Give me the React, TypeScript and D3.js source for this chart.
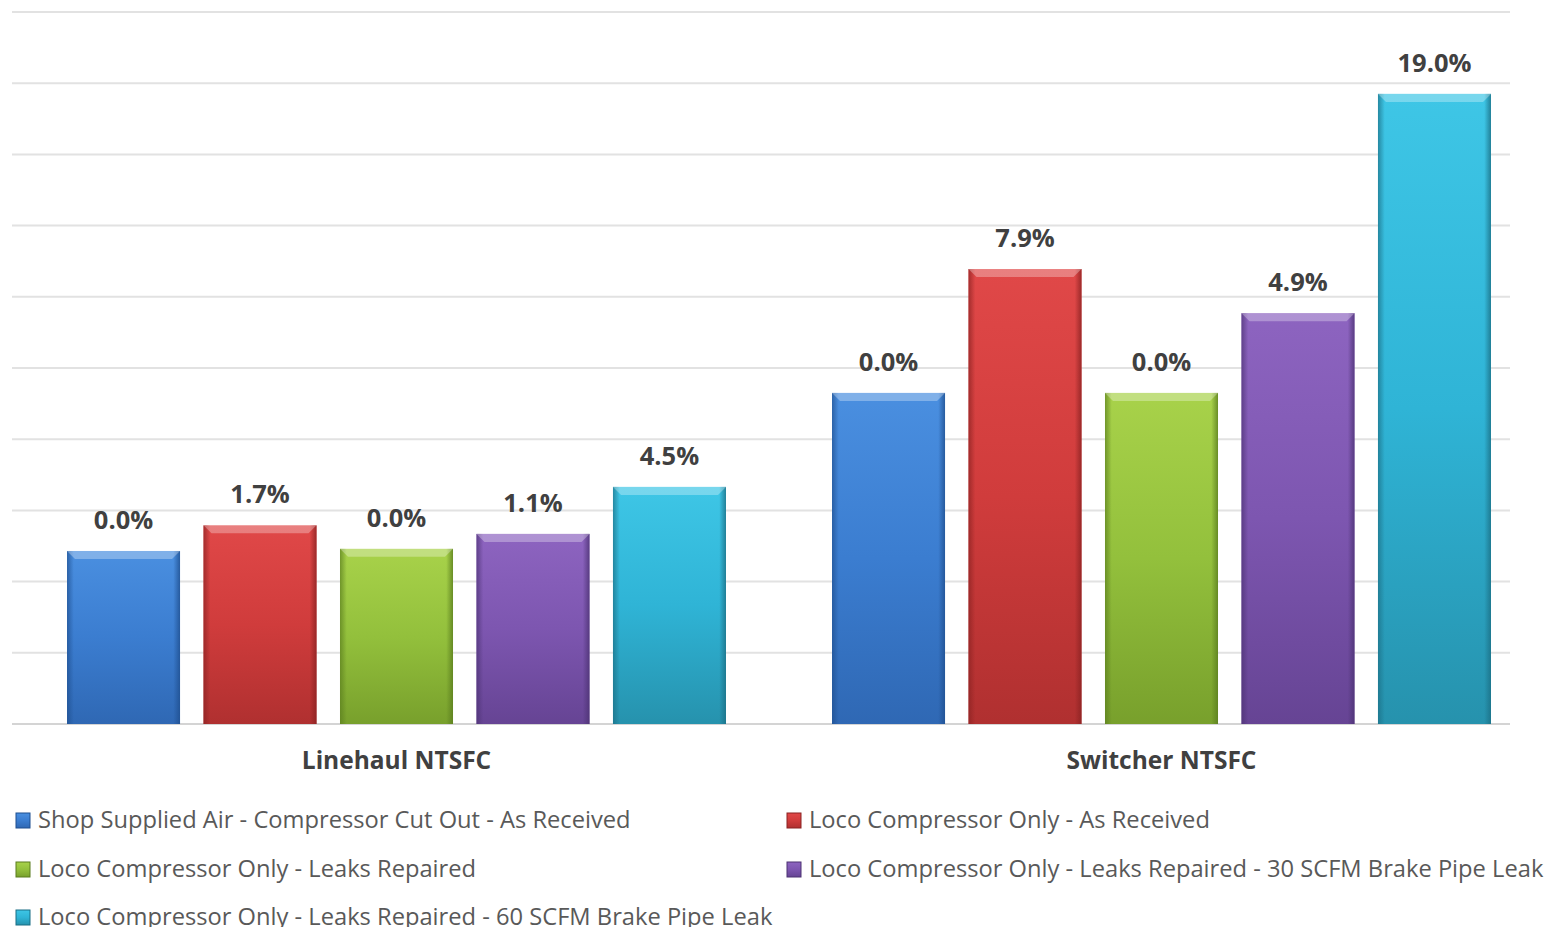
import React, { useEffect, useRef } from 'react';
import * as d3 from 'd3';

const categories = ['Linehaul NTSFC', 'Switcher NTSFC'];
const seriesNames = [
  'Shop Supplied Air - Compressor Cut Out - As Received',
  'Loco Compressor Only - As Received',
  'Loco Compressor Only - Leaks Repaired',
  'Loco Compressor Only - Leaks Repaired - 30 SCFM Brake Pipe Leak',
  'Loco Compressor Only - Leaks Repaired - 60 SCFM Brake Pipe Leak',
];
// bar heights (axis units, axis hidden) per category
const linehaulValues = [2.43, 2.79, 2.46, 2.67, 3.33];
const switcherValues = [4.65, 6.39, 4.65, 5.77, 8.85];
// data labels shown above the bars
const linehaulLabels = ['0.0%', '1.7%', '0.0%', '1.1%', '4.5%'];
const switcherLabels = ['0.0%', '7.9%', '0.0%', '4.9%', '19.0%'];
const yTicks = [0, 1, 2, 3, 4, 5, 6, 7, 8, 9, 10];

const colors = [
  { top: '#4a8fe0', mid: '#3b7dd0', bot: '#2f68b4', edge: '#1f4f8f' },
  { top: '#e04848', mid: '#d03c3c', bot: '#b03030', edge: '#8a2222' },
  { top: '#a8d24a', mid: '#93c03c', bot: '#78a02c', edge: '#5a7d1e' },
  { top: '#8d64c0', mid: '#7d56b0', bot: '#664494', edge: '#4c3273' },
  { top: '#3ec6e6', mid: '#2fb4d6', bot: '#2692ad', edge: '#1b6f85' },
];

const FONT = '"Open Sans", sans-serif';

const Chart = () => {
  const ref = useRef<SVGSVGElement>(null);

  useEffect(() => {
    const svg = d3.select(ref.current);
    svg.selectAll('*').remove();

    const values = [linehaulValues, switcherValues];
    const labels = [linehaulLabels, switcherLabels];

    const x0 = d3.scaleBand<string>()
      .domain(categories)
      .range([14, 1544])
      .paddingInner(0.1386)
      .paddingOuter(0.0693);
    const x1 = d3.scaleBand<number>()
      .domain(d3.range(seriesNames.length))
      .range([0, x0.bandwidth()])
      .paddingInner(0.172)
      .paddingOuter(0);
    const y = d3.scaleLinear().domain([0, 10]).range([724, 12]);

    const defs = svg.append('defs');
    colors.forEach((c, i) => {
      const g = defs.append('linearGradient')
        .attr('id', `grad${i}`)
        .attr('x1', 0).attr('y1', 0).attr('x2', 0).attr('y2', 1);
      g.append('stop').attr('offset', '0%').attr('stop-color', c.top);
      g.append('stop').attr('offset', '50%').attr('stop-color', c.mid);
      g.append('stop').attr('offset', '100%').attr('stop-color', c.bot);
      const h = defs.append('linearGradient')
        .attr('id', `side${i}`)
        .attr('x1', 0).attr('y1', 0).attr('x2', 1).attr('y2', 0);
      h.append('stop').attr('offset', '0%').attr('stop-color', c.edge).attr('stop-opacity', 0.7);
      h.append('stop').attr('offset', '6%').attr('stop-color', c.edge).attr('stop-opacity', 0);
      h.append('stop').attr('offset', '94%').attr('stop-color', c.edge).attr('stop-opacity', 0);
      h.append('stop').attr('offset', '100%').attr('stop-color', c.edge).attr('stop-opacity', 0.8);
    });

    // gridlines
    svg.append('g')
      .selectAll('line')
      .data(yTicks)
      .enter()
      .append('line')
      .attr('x1', 12)
      .attr('x2', 1510)
      .attr('y1', d => y(d))
      .attr('y2', d => y(d))
      .attr('stroke', d => (d === 0 ? '#d4d4d4' : '#e2e2e2'))
      .attr('stroke-width', 2);

    categories.forEach((cat, ci) => {
      const g = svg.append('g').attr('transform', `translate(${x0(cat)},0)`);
      values[ci].forEach((v, si) => {
        const bx = x1(si)!;
        const bw = x1.bandwidth();
        const top = y(v);
        const h = y(0) - top;
        g.append('rect')
          .attr('x', bx).attr('y', top).attr('width', bw).attr('height', h)
          .attr('fill', `url(#grad${si})`);
        g.append('rect')
          .attr('x', bx).attr('y', top).attr('width', bw).attr('height', h)
          .attr('fill', `url(#side${si})`);
        // top bevel
        g.append('path')
          .attr('d', `M${bx},${top} L${bx + bw},${top} L${bx + bw - 8},${top + 8} L${bx + 8},${top + 8} Z`)
          .attr('fill', '#ffffff')
          .attr('opacity', 0.3);
        g.append('text')
          .attr('x', bx + bw / 2)
          .attr('y', top - 22)
          .attr('text-anchor', 'middle')
          .style('font-family', FONT)
          .style('font-size', '25.5px')
          .style('font-weight', 'bold')
          .style('fill', '#404040')
          .text(labels[ci][si]);
      });
      svg.append('text')
        .attr('x', x0(cat)! + x0.bandwidth() / 2)
        .attr('y', 769)
        .attr('text-anchor', 'middle')
        .style('font-family', FONT)
        .style('font-size', '24.5px')
        .style('font-weight', 'bold')
        .style('fill', '#404040')
        .text(cat);
    });

    // legend
    const legendPos = [
      [16, 820], [787, 820],
      [16, 869], [787, 869],
      [16, 917],
    ];
    seriesNames.forEach((name, i) => {
      const [lx, ly] = legendPos[i];
      const lg = svg.append('g').attr('transform', `translate(${lx},${ly})`);
      lg.append('rect')
        .attr('x', 0).attr('y', -7).attr('width', 14).attr('height', 15)
        .attr('fill', `url(#grad${i})`)
        .attr('stroke', colors[i].edge)
        .attr('stroke-width', 1);
      lg.append('text')
        .attr('x', 22)
        .attr('y', 8)
        .style('font-family', FONT)
        .style('font-size', '23.7px')
        .style('fill', '#595959')
        .text(name);
    });
  }, []);

  return <svg ref={ref} width={1563} height={935} style={{ display: 'block' }}></svg>;
};

export default function App() {
  return (
    <div style={{ margin: -8 }}>
      <Chart />
    </div>
  );
}
